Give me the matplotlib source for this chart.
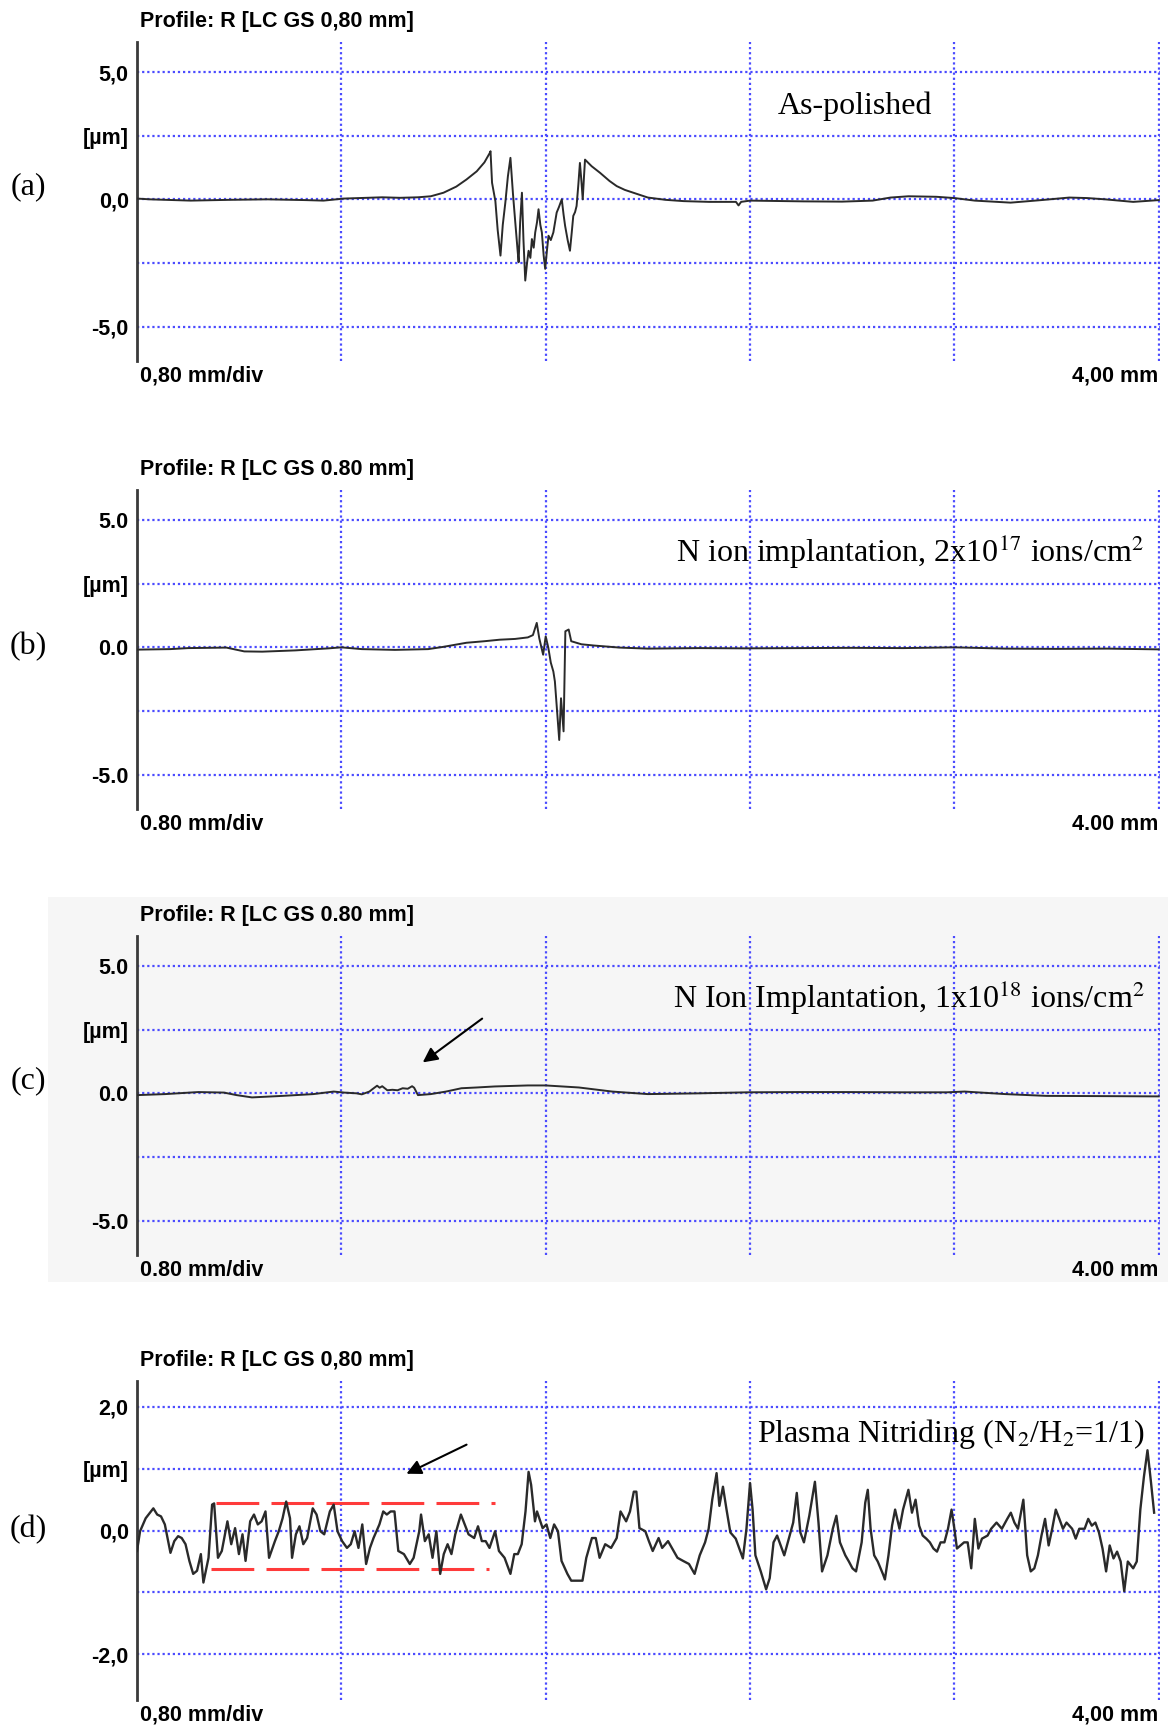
import matplotlib
matplotlib.use('Agg')
import matplotlib.pyplot as plt
from matplotlib.patches import Rectangle

# ---- perfiles (x en mm, altura en um) ----
x_a = [0.00, 0.05, 0.21, 0.36, 0.51, 0.66, 0.73, 0.81, 0.96, 1.03,
       1.10, 1.15, 1.20, 1.25, 1.29, 1.33, 1.36, 1.381, 1.384, 1.390,
       1.403, 1.412, 1.423, 1.432, 1.442, 1.452, 1.462, 1.472, 1.481, 1.490,
       1.494, 1.500, 1.507, 1.513, 1.520, 1.527, 1.533, 1.540, 1.546, 1.553,
       1.559, 1.566, 1.572, 1.579, 1.585, 1.592, 1.598, 1.605, 1.611, 1.620,
       1.630, 1.643, 1.652, 1.663, 1.670, 1.676, 1.686, 1.695, 1.702, 1.708,
       1.715, 1.721, 1.728, 1.734, 1.740, 1.745, 1.750, 1.754, 1.780, 1.813,
       1.850, 1.878, 1.910, 1.943, 2.000, 2.070, 2.140, 2.240, 2.345, 2.355,
       2.365, 2.400, 2.610, 2.760, 2.880, 2.950, 3.020, 3.130, 3.200, 3.280,
       3.420, 3.540, 3.650, 3.720, 3.790, 3.900, 4.000]
y_a = [0.03, 0.00, -0.05, -0.02, 0.00, -0.03, -0.05, 0.03, 0.08, 0.06,
       0.08, 0.12, 0.26, 0.50, 0.78, 1.10, 1.45, 1.82, 1.89, 0.65,
       -0.07, -1.20, -2.21, -1.00, -0.13, 0.90, 1.63, 0.20, -0.91, -2.00,
       -2.47, -0.90, 0.26, -1.60, -3.19, -2.50, -2.02, -2.30, -1.56, -1.90,
       -1.30, -0.90, -0.39, -1.00, -1.30, -2.20, -2.73, -2.00, -1.43, -1.60,
       -1.30, -0.52, -0.30, 0.00, -0.60, -1.04, -1.60, -2.02, -1.30, -0.65,
       -0.50, -0.26, 0.60, 1.43, 0.70, 0.00, 0.90, 1.56, 1.30, 1.04,
       0.72, 0.52, 0.37, 0.26, 0.07, -0.02, -0.07, -0.10, -0.10, -0.24,
       -0.10, -0.05, -0.08, -0.09, -0.05, 0.07, 0.12, 0.10, 0.05, -0.05,
       -0.13, -0.03, 0.07, 0.05, 0.00, -0.10, -0.03]

x_b = [0.00, 0.13, 0.20, 0.35, 0.42, 0.49, 0.62, 0.75, 0.80, 0.88,
       1.01, 1.14, 1.20, 1.29, 1.36, 1.42, 1.48, 1.53, 1.55, 1.565,
       1.575, 1.59, 1.60, 1.61, 1.62, 1.63, 1.636, 1.653, 1.66, 1.67,
       1.677, 1.69, 1.70, 1.74, 1.79, 1.89, 2.00, 2.20, 2.38, 2.60,
       2.80, 3.00, 3.20, 3.40, 3.60, 3.80, 4.00]
y_b = [-0.09, -0.07, -0.03, -0.01, -0.16, -0.17, -0.12, -0.04, 0.00, -0.07,
       -0.10, -0.07, 0.02, 0.18, 0.24, 0.30, 0.33, 0.39, 0.48, 0.96,
       0.35, -0.29, 0.43, 0.00, -0.60, -0.95, -1.34, -3.64, -2.00, -3.30,
       0.63, 0.70, 0.24, 0.12, 0.07, -0.01, -0.05, -0.03, -0.04, -0.03,
       -0.02, -0.03, 0.00, -0.05, -0.06, -0.05, -0.08]

x_c = [0.00, 0.11, 0.24, 0.34, 0.39, 0.45, 0.57, 0.69, 0.77, 0.81,
       0.86, 0.88, 0.91, 0.92, 0.94, 0.95, 0.96, 0.98, 1.00, 1.02,
       1.04, 1.06, 1.077, 1.085, 1.10, 1.15, 1.21, 1.27, 1.33, 1.40,
       1.53, 1.60, 1.73, 1.86, 2.00, 2.20, 2.39, 2.60, 2.78, 3.00,
       3.17, 3.24, 3.40, 3.56, 3.80, 4.00]
y_c = [-0.07, -0.03, 0.05, 0.03, -0.07, -0.16, -0.10, -0.03, 0.07, 0.03,
       0.00, -0.04, 0.07, 0.15, 0.30, 0.22, 0.28, 0.12, 0.14, 0.12,
       0.20, 0.18, 0.28, 0.22, -0.07, -0.03, 0.07, 0.20, 0.23, 0.27,
       0.31, 0.31, 0.23, 0.07, -0.03, 0.00, 0.04, 0.05, 0.05, 0.04,
       0.04, 0.07, -0.03, -0.10, -0.11, -0.12]

x_d = [0.000, 0.012, 0.034, 0.064, 0.079, 0.094, 0.109, 0.131, 0.146, 0.161,
       0.175, 0.190, 0.205, 0.220, 0.235, 0.250, 0.260, 0.280, 0.294, 0.302,
       0.317, 0.332, 0.354, 0.369, 0.384, 0.399, 0.413, 0.425, 0.443, 0.458,
       0.473, 0.488, 0.503, 0.517, 0.540, 0.555, 0.570, 0.584, 0.599, 0.607,
       0.622, 0.636, 0.651, 0.666, 0.688, 0.703, 0.718, 0.733, 0.755, 0.770,
       0.785, 0.803, 0.822, 0.837, 0.852, 0.867, 0.882, 0.897, 0.912, 0.926,
       0.949, 0.964, 0.978, 0.993, 1.008, 1.023, 1.045, 1.068, 1.083, 1.105,
       1.112, 1.127, 1.142, 1.157, 1.172, 1.187, 1.201, 1.216, 1.231, 1.246,
       1.268, 1.283, 1.298, 1.320, 1.335, 1.350, 1.365, 1.380, 1.402, 1.417,
       1.439, 1.462, 1.477, 1.491, 1.506, 1.521, 1.533, 1.543, 1.558, 1.566,
       1.588, 1.603, 1.618, 1.633, 1.648, 1.662, 1.685, 1.700, 1.722, 1.744,
       1.759, 1.781, 1.796, 1.811, 1.833, 1.856, 1.878, 1.893, 1.915, 1.930,
       1.945, 1.955, 1.967, 1.990, 2.004, 2.019, 2.042, 2.056, 2.079, 2.094,
       2.116, 2.138, 2.161, 2.183, 2.203, 2.224, 2.238, 2.252, 2.269, 2.280,
       2.294, 2.308, 2.323, 2.344, 2.358, 2.372, 2.386, 2.400, 2.410, 2.421,
       2.442, 2.463, 2.477, 2.492, 2.506, 2.520, 2.534, 2.548, 2.569, 2.583,
       2.597, 2.611, 2.632, 2.654, 2.668, 2.682, 2.703, 2.724, 2.738, 2.752,
       2.773, 2.787, 2.801, 2.815, 2.837, 2.851, 2.861, 2.872, 2.886, 2.900,
       2.921, 2.928, 2.942, 2.956, 2.968, 2.985, 2.999, 3.020, 3.034, 3.048,
       3.062, 3.076, 3.090, 3.104, 3.118, 3.132, 3.146, 3.161, 3.175, 3.189,
       3.200, 3.210, 3.224, 3.238, 3.252, 3.266, 3.280, 3.294, 3.308, 3.330,
       3.344, 3.365, 3.386, 3.407, 3.421, 3.435, 3.449, 3.470, 3.485, 3.499,
       3.513, 3.527, 3.541, 3.555, 3.569, 3.583, 3.597, 3.611, 3.625, 3.639,
       3.661, 3.675, 3.689, 3.710, 3.724, 3.738, 3.752, 3.766, 3.780, 3.794,
       3.808, 3.823, 3.837, 3.851, 3.865, 3.879, 3.900, 3.914, 3.928, 3.942,
       3.956, 3.970, 3.982]
y_d = [-0.33, -0.01, 0.20, 0.36, 0.26, 0.23, 0.10, -0.36, -0.17, -0.09,
       -0.12, -0.22, -0.49, -0.70, -0.65, -0.38, -0.84, -0.44, 0.42, 0.44,
       -0.44, -0.33, 0.15, -0.22, 0.04, -0.38, -0.06, -0.49, 0.15, 0.26,
       0.10, 0.15, 0.31, -0.44, -0.17, -0.01, 0.20, 0.47, 0.20, -0.44,
       -0.06, 0.07, -0.22, -0.12, 0.36, 0.26, -0.01, -0.06, 0.31, 0.42,
       -0.01, -0.17, -0.28, -0.22, -0.01, -0.28, 0.10, -0.54, -0.28, -0.12,
       0.10, 0.31, 0.26, 0.31, 0.31, -0.33, -0.38, -0.54, -0.44, -0.01,
       0.26, -0.17, -0.06, -0.44, -0.01, -0.70, -0.38, -0.22, -0.38, -0.06,
       0.26, 0.10, -0.06, -0.12, 0.07, -0.17, -0.17, -0.28, -0.01, -0.33,
       -0.44, -0.70, -0.38, -0.38, -0.22, 0.31, 0.95, 0.74, 0.15, 0.31,
       0.04, 0.10, -0.12, 0.10, -0.01, -0.49, -0.70, -0.81, -0.81, -0.81,
       -0.44, -0.12, -0.12, -0.44, -0.22, -0.28, -0.12, 0.31, 0.15, 0.31,
       0.63, 0.63, 0.04, -0.01, -0.17, -0.33, -0.12, -0.28, -0.17, -0.28,
       -0.44, -0.49, -0.54, -0.70, -0.40, -0.19, 0.03, 0.50, 0.93, 0.40,
       0.71, 0.34, -0.03, -0.13, -0.29, -0.45, 0.03, 0.77, 0.34, -0.40,
       -0.66, -0.95, -0.77, -0.19, -0.08, -0.24, -0.40, -0.19, 0.13, 0.61,
       -0.03, -0.19, 0.24, 0.79, 0.13, -0.66, -0.40, 0.03, 0.24, -0.19,
       -0.40, -0.50, -0.61, -0.66, -0.19, 0.45, 0.66, 0.03, -0.40, -0.50,
       -0.71, -0.79, -0.40, 0.08, 0.34, 0.03, 0.34, 0.66, 0.29, 0.50,
       0.08, -0.08, -0.13, -0.19, -0.29, -0.34, -0.19, -0.19, 0.03, 0.34,
       0.03, -0.29, -0.24, -0.19, -0.19, -0.61, 0.19, -0.29, -0.13, -0.08,
       0.03, 0.13, 0.03, 0.19, 0.29, 0.13, 0.03, 0.50, -0.40, -0.66,
       -0.61, -0.40, -0.08, 0.19, -0.24, 0.03, 0.34, 0.19, 0.03, 0.13,
       0.03, -0.13, 0.03, 0.03, 0.19, 0.08, 0.13, -0.03, -0.29, -0.66,
       -0.24, -0.45, -0.34, -0.50, -0.98, -0.50, -0.61, -0.50, 0.34, 0.87,
       1.30, 0.77, 0.29]

# bandas rojas de Rz en (d)
banda_sup = 0.44
banda_inf = -0.62

W, H = 1168, 1726
azul = '#4b4bff'
gris = '#2a2a2a'

plt.rcParams['mathtext.fontset'] = 'stix'

fig = plt.figure(figsize=(W / 100., H / 100.), dpi=100)

def fx(px):
    return px / float(W)

def fy(py):
    return 1 - py / float(H)

# fondo gris claro del escaneo en (c), detras de los ejes
fig.patches.append(Rectangle((fx(48), fy(1282)), 1 - fx(48), (1282 - 897) / float(H),
                             transform=fig.transFigure, facecolor='#f6f6f6', edgecolor='none', zorder=-5))

def grafica(top, ylim, yticks, ylabels, X, Y, titulo, div, total, letra, letra_y, lw=1.4):
    izq = 137
    ancho = 1023
    alto = 319
    ax = fig.add_axes([fx(izq), fy(top + alto), ancho / float(W), alto / float(H)])
    ax.patch.set_alpha(0)
    ax.set_xlim(0, 4.005)
    ax.set_ylim(*ylim)
    ax.set_xticks([0.8, 1.6, 2.4, 3.2, 4.0])
    ax.set_xticklabels([])
    ax.set_yticks(yticks)
    ax.set_yticklabels(ylabels, fontsize=15.5, fontweight='bold', family='Liberation Sans')
    ax.tick_params(length=0, pad=6)
    for s in ['top', 'right', 'bottom']:
        ax.spines[s].set_visible(False)
    ax.spines['left'].set_color('#3a3a3a')
    ax.spines['left'].set_linewidth(2)
    ax.grid(True, color=azul, linestyle=(0, (1, 1.3)), linewidth=1.6)
    ax.set_axisbelow(True)
    ax.plot(X, Y, color=gris, lw=lw, zorder=3)

    fig.text(fx(140), fy(top - 21), titulo, ha='left', va='center',
             fontsize=15.5, fontweight='bold', family='Liberation Sans')
    fig.text(fx(140), fy(top + alto + 15), div, ha='left', va='center',
             fontsize=15.5, fontweight='bold', family='Liberation Sans')
    fig.text(fx(1158), fy(top + alto + 15), total, ha='right', va='center',
             fontsize=15.5, fontweight='bold', family='Liberation Sans')
    fig.text(fx(28), fy(letra_y), letra, ha='center', va='center',
             fontsize=23, family='Liberation Serif')
    return ax

lim5 = (-6.35, 6.18)
t5 = [5, 2.5, 0, -2.5, -5]

ax_a = grafica(42, lim5, t5, ['5,0', '[µm]', '0,0', '', '-5,0'], x_a, y_a,
               'Profile: R [LC GS 0,80 mm]', '0,80 mm/div', '4,00 mm', '(a)', 187)
ax_a.text(2.81, 3.65, 'As-polished', ha='center', va='center', fontsize=23, family='Liberation Serif')

ax_b = grafica(490, lim5, t5, ['5.0', '[µm]', '0.0', '', '-5.0'], x_b, y_b,
               'Profile: R [LC GS 0.80 mm]', '0.80 mm/div', '4.00 mm', '(b)', 647)
ax_b.text(3.945, 3.75, 'N ion implantation, 2x10$^{17}$ ions/cm$^{2}$', ha='right', va='center',
          fontsize=23, family='Liberation Serif')

ax_c = grafica(936, lim5, t5, ['5.0', '[µm]', '0.0', '', '-5.0'], x_c, y_c,
               'Profile: R [LC GS 0.80 mm]', '0.80 mm/div', '4.00 mm', '(c)', 1081)
ax_c.text(3.945, 3.74, 'N Ion Implantation, 1x10$^{18}$ ions/cm$^{2}$', ha='right', va='center',
          fontsize=23, family='Liberation Serif')
ax_c.annotate('', xy=(1.11, 1.15), xytext=(1.36, 3.0),
              arrowprops=dict(arrowstyle='-|>', color='k', lw=1.5, mutation_scale=22))

ax_d = grafica(1381, (-2.74, 2.42), [2, 1, 0, -1, -2], ['2,0', '[µm]', '0,0', '', '-2,0'], x_d, y_d,
               'Profile: R [LC GS 0,80 mm]', '0,80 mm/div', '4,00 mm', '(d)', 1530, lw=1.7)
ax_d.text(3.945, 1.56, 'Plasma Nitriding (N$_2$/H$_2$=1/1)', ha='right', va='center',
          fontsize=23, family='Liberation Serif')
ax_d.annotate('', xy=(1.045, 0.90), xytext=(1.30, 1.41),
              arrowprops=dict(arrowstyle='-|>', color='k', lw=1.5, mutation_scale=22))
ax_d.plot([0.31, 1.40], [banda_sup, banda_sup], color='#ff3b3b', lw=2.2,
          linestyle=(0, (14, 4)), zorder=2)
ax_d.plot([0.29, 1.38], [banda_inf, banda_inf], color='#ff3b3b', lw=2.2,
          linestyle=(0, (14, 4)), zorder=2)

plt.savefig('out.png', dpi=100)
